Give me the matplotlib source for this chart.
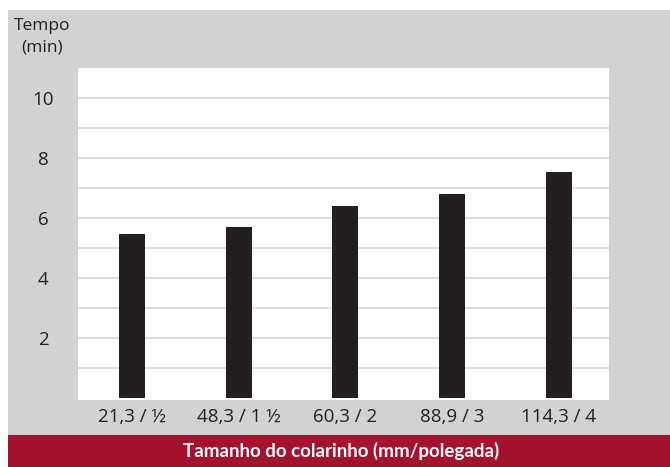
import matplotlib
matplotlib.use("Agg")
import matplotlib.pyplot as plt
from matplotlib.patches import Rectangle

categories = ["21,3 / ½", "48,3 / 1 ½", "60,3 / 2", "88,9 / 3", "114,3 / 4"]
values = [5.47, 5.7, 6.4, 6.8, 7.53]
yticks = [2, 4, 6, 8, 10]
ylabel = "Tempo\n(min)"
xlabel = "Tamanho do colarinho (mm/polegada)"

W, H = 670, 467
fig = plt.figure(figsize=(W / 100, H / 100), dpi=100)
fig.patch.set_facecolor("white")

GRAY = "#d1d2d4"
RED = "#a6112e"
DARK = "#231f20"
FAM = ["Open Sans", "DejaVu Sans"]

def fx(px):
    return px / W

def fy(py):
    return 1 - py / H

bg = fig.add_axes([0, 0, 1, 1], zorder=-5)
bg.set_xlim(0, W)
bg.set_ylim(H, 0)
bg.axis("off")
bg.add_patch(Rectangle((8, 10), W - 8, 425, facecolor=GRAY, edgecolor="none"))
bg.add_patch(Rectangle((8, 435), W - 8, 32, facecolor=RED, edgecolor="none"))

ax = fig.add_axes([fx(78), fy(400), fx(609) - fx(78), fy(68) - fy(400)], zorder=1)
ax.set_facecolor("white")
x = list(range(len(categories)))
ax.bar(x, values, width=0.243, color=DARK, zorder=3)
ax.set_xlim(-0.505, 4.47)
ax.set_ylim(-0.05, 11)
for v in range(1, 11):
    ax.axhline(v, color="#d6d6d6", lw=1.2, zorder=1)
ax.set_yticks(yticks)
ax.set_yticklabels([str(t) for t in yticks])
ax.set_xticks(x)
ax.set_xticklabels(categories)
for s in ax.spines.values():
    s.set_visible(False)
ax.tick_params(axis="both", length=0, labelsize=13.5, colors=DARK)
ax.tick_params(axis="x", pad=6)
for lab in ax.get_yticklabels():
    lab.set_fontfamily(FAM)
    lab.set_horizontalalignment("center")
for lab in ax.get_xticklabels():
    lab.set_fontfamily(FAM)
ax.yaxis.set_tick_params(pad=25)

fig.text(fx(42), fy(37), ylabel, ha="center", va="center", fontsize=12.5, color=DARK,
         family=FAM, linespacing=1.5)
fig.text(fx(341), fy(451), xlabel, ha="center", va="center", fontsize=13.5, color="white",
         fontweight="bold", family=["Lato", "DejaVu Sans"])

fig.savefig("out.png", dpi=100, facecolor=fig.get_facecolor())
